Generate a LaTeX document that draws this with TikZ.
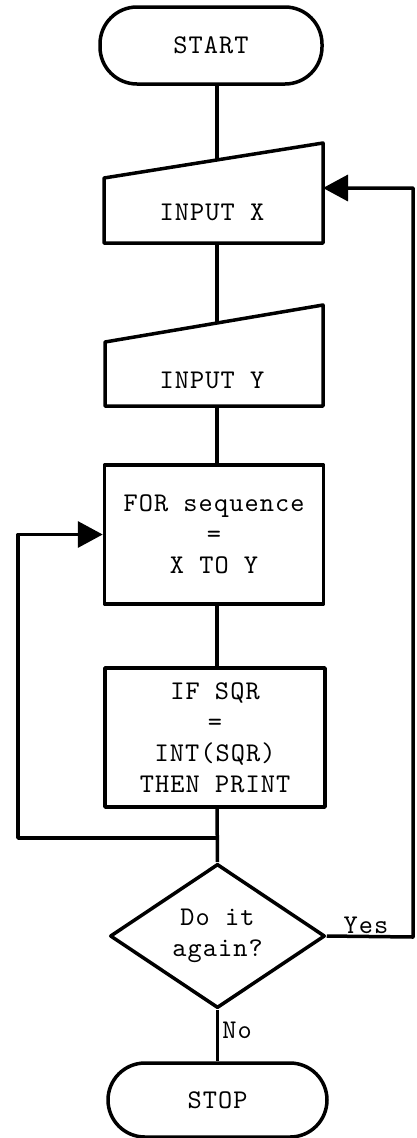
\documentclass[tikz,border=0pt]{standalone}
\usepackage{fontspec}
\usetikzlibrary{arrows.meta,shapes.geometric}
\newfontfamily\flowtt{lmmono10-regular.otf}[LetterSpace=4]
\newcommand{\flowfont}{\flowtt\fontsize{27}{31}\selectfont}
\begin{document}
\begin{tikzpicture}[x=1pt,y=-1pt,line width=3.5pt,line join=round,
  txt/.style={font=\flowfont,align=center,inner sep=0pt},
  term/.style={txt,draw,rectangle,rounded corners=37pt,minimum width=222pt,minimum height=77pt},
  procbox/.style={txt,draw,rectangle,minimum width=219pt,minimum height=139pt},
  decision/.style={txt,draw,diamond,minimum width=215pt,minimum height=135pt},
  flowarrow/.style={-{Triangle[length=25pt,width=26pt]}},
  tag/.style={font=\flowfont,inner sep=0pt}]
\useasboundingbox (0,0) rectangle (416,1138);

% terminals
\node[term] (start) at (211,45.5) {START};
\node[term,minimum width=219pt,minimum height=74pt] (stop) at (217.5,1100) {STOP};

% manual input: INPUT X
\draw (104,178) -- (323,143) -- (323,243) -- (104,243) -- cycle;
\node[txt] (inx) at (212,212) {INPUT X};
\coordinate (inxTop) at (217,160);
\coordinate (inxBot) at (217,243);
\coordinate (inxIn) at (323,188);

% manual input: INPUT Y
\draw (105,342) -- (323,305) -- (323,406) -- (105,406) -- cycle;
\node[txt] (iny) at (212,380) {INPUT Y};
\coordinate (inyTop) at (217,323);
\coordinate (inyBot) at (217,406);

% process boxes
\node[procbox] (forbox) at (214,534.5) {FOR sequence\\=\\X TO Y};
\node[procbox,minimum width=220pt] (ifbox) at (215,737.5) {IF SQR\\=\\INT(SQR)\\THEN PRINT};

% decision
\node[decision] (dec) at (217.5,936) {Do it\\again?};
\node[tag] (yes) at (366,925) {Yes};
\node[tag] (no) at (237,1030) {No};

% main flow
\draw (start.south -| inxTop) -- (inxTop);
\draw (inxBot) -- (inyTop);
\draw (inyBot) -- (forbox.north -| inyBot);
\draw (forbox.south -| inyBot) -- (ifbox.north -| inyBot);
\draw (ifbox.south -| inyBot) -- (dec.north);
\draw (dec.south) -- (stop.north);

% inner loop back to FOR
\coordinate (loopJoin) at (217,838);
\coordinate (loopLeft) at (18,838);
\draw[flowarrow] (loopJoin) -- (loopLeft) |- (forbox.west);

% outer loop back to INPUT X
\coordinate (yesCorner) at (413,937);
\draw[flowarrow] (dec.east) -- (yesCorner) |- (inxIn);
\end{tikzpicture}
\end{document}
